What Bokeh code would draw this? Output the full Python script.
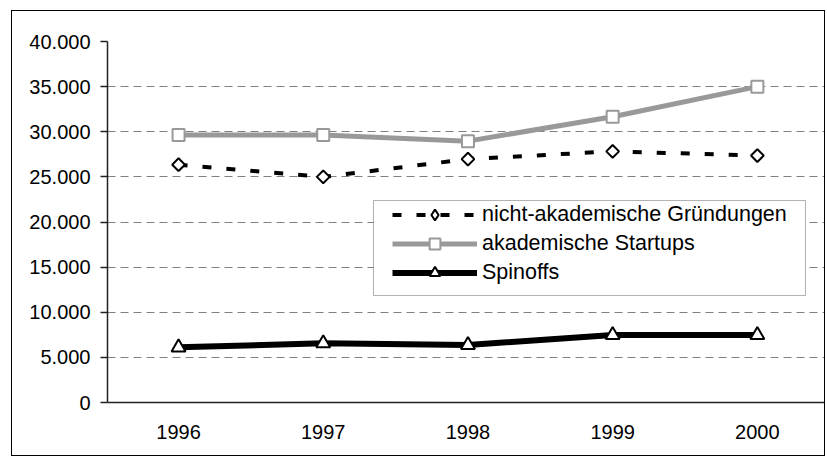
from bokeh.plotting import figure
from bokeh.models import Range1d, FixedTicker, Legend, LegendItem, BoxAnnotation
from bokeh.embed import file_html
from bokeh.resources import INLINE
import numpy as np

# ---- data ----
years = ["1996", "1997", "1998", "1999", "2000"]
nicht_akademisch = [26350, 25000, 26970, 27830, 27360]
akademisch = [29630, 29630, 28960, 31670, 35000]
spinoffs = [6110, 6560, 6370, 7480, 7480]
y_ticks = [0, 5000, 10000, 15000, 20000, 25000, 30000, 35000, 40000]
y_tick_labels = ["0", "5.000", "10.000", "15.000", "20.000", "25.000", "30.000", "35.000", "40.000"]
series_names = ["nicht-akademische Gründungen", "akademische Startups", "Spinoffs"]

x = list(range(len(years)))
FONT = "Liberation Sans"

p = figure(width=814, height=446, output_backend="svg", toolbar_location=None,
           x_range=Range1d(-0.491, 4.464), y_range=Range1d(0, 40000),
           min_border_left=95, min_border_right=2, min_border_top=30, min_border_bottom=55,
           background_fill_color="white", border_fill_color="white")
p.styles = {"margin-left": "11px", "margin-top": "10px", "border": "1px solid black"}
p.outline_line_color = None

# axes
p.yaxis.ticker = FixedTicker(ticks=y_ticks)
p.yaxis.major_label_overrides = {t: l for t, l in zip(y_ticks, y_tick_labels)}
p.xaxis.ticker = FixedTicker(ticks=x)
p.xaxis.major_label_overrides = {i: y for i, y in zip(x, years)}
for ax in (p.xaxis, p.yaxis):
    ax.axis_line_color = "#222222"
    ax.axis_line_width = 1.5
    ax.minor_tick_line_color = None
    ax.major_label_text_font = FONT
    ax.major_label_text_font_size = "20px"
    ax.major_label_text_color = "black"
p.yaxis.major_tick_out = 7
p.yaxis.major_tick_in = 0
p.yaxis.major_tick_line_color = "#222222"
p.yaxis.major_tick_line_width = 1.5
p.yaxis.major_label_standoff = 10
p.xaxis.major_tick_line_color = None
p.xaxis.major_tick_out = 0
p.xaxis.major_tick_in = 0
p.xaxis.major_label_standoff = 22

p.xgrid.visible = False
p.ygrid.grid_line_color = "#808080"
p.ygrid.grid_line_dash = "8 5"
p.ygrid.grid_line_width = 1

# series
l_sp = p.line(x, spinoffs, line_color="black", line_width=6)
s_sp = p.scatter(x, spinoffs, marker="triangle", size=14, fill_color="white",
                 line_color="black", line_width=2)
l_ak = p.line(x, akademisch, line_color="#999999", line_width=5)
s_ak = p.scatter(x, akademisch, marker="square", size=12, fill_color="white",
                 line_color="#999999", line_width=2)
l_na = p.line(x, nicht_akademisch, line_color="black", line_width=4, line_dash="9 15")
# diamond used for the legend (hidden beneath the square-shaped diamonds in the plot)
s_na_leg = p.scatter(x, nicht_akademisch, marker="diamond", size=10,
                     fill_color="white", line_color="black", line_width=2)
s_na = p.scatter(x, nicht_akademisch, marker="square", angle=np.pi / 4, size=9,
                 fill_color="white", line_color="black", line_width=2)

# legend frame
box = BoxAnnotation(left=266, right=698, bottom=107, top=202,
                    left_units="screen", right_units="screen",
                    bottom_units="screen", top_units="screen",
                    fill_color="white", fill_alpha=1,
                    line_color="black", line_width=1)
p.add_layout(box)

legend = Legend(items=[
    LegendItem(label=series_names[0], renderers=[l_na, s_na_leg]),
    LegendItem(label=series_names[1], renderers=[l_ak, s_ak]),
    LegendItem(label=series_names[2], renderers=[l_sp, s_sp]),
], location=(285, 116))
legend.border_line_color = None
legend.background_fill_alpha = 0
legend.padding = 0
legend.spacing = 2
legend.margin = 0
legend.glyph_width = 85
legend.glyph_height = 27
legend.label_height = 27
legend.label_standoff = 5
legend.label_text_font = FONT
legend.label_text_font_size = "21.5px"
legend.label_text_color = "black"
p.add_layout(legend)

open("out.html", "w").write(file_html(p, INLINE))
